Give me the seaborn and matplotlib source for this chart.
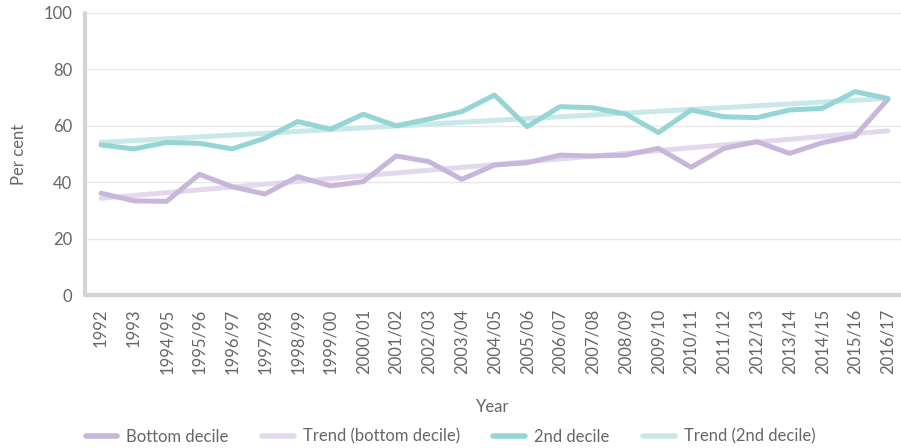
import matplotlib
matplotlib.use("Agg")
import matplotlib.pyplot as plt
import numpy as np
import pandas as pd
import seaborn as sns

# values
years = ["1992", "1993", "1994/95", "1995/96", "1996/97", "1997/98", "1998/99",
         "1999/00", "2000/01", "2001/02", "2002/03", "2003/04", "2004/05",
         "2005/06", "2006/07", "2007/08", "2008/09", "2009/10", "2010/11",
         "2011/12", "2012/13", "2013/14", "2014/15", "2015/16", "2016/17"]
bottom_decile = [36.1, 33.4, 33.2, 42.8, 38.4, 35.8, 42.0, 38.7, 40.2, 49.3,
                 47.3, 41.0, 46.1, 46.9, 49.6, 49.3, 49.6, 52.0, 45.3, 52.0,
                 54.4, 50.2, 54.0, 56.4, 69.4]
second_decile = [53.2, 51.8, 54.1, 53.8, 51.8, 55.6, 61.5, 58.8, 64.1, 60.0,
                 62.4, 65.0, 70.9, 59.7, 66.8, 66.4, 64.2, 57.6, 65.6, 63.2,
                 62.9, 65.6, 66.2, 72.1, 69.7]
# trend lines: start and end values (first and last year)
trend_bottom = [34.3, 58.2]
trend_second = [54.1, 69.7]

series_names = ["Bottom decile", "Trend (bottom decile)", "2nd decile", "Trend (2nd decile)"]
colors = ["#c9b7db", "#e3d9ee", "#95d6d4", "#c8e8e9"]

sns.set_theme(style="white")
plt.rcParams["font.family"] = ["Lato", "DejaVu Sans"]
text_color = "#666666"

df = pd.DataFrame({"year": years, "bottom": bottom_decile, "second": second_decile})
df["pos"] = np.arange(len(years))
ends = pd.DataFrame({"pos": [0, len(years) - 1],
                     "tb": trend_bottom, "ts": trend_second})

fig = plt.figure(figsize=(9.01, 4.48), dpi=100)
ax = fig.add_axes([0.0943, 0.3415, 0.9057, 0.6295])

lw = 3.6
sns.lineplot(data=df, x="pos", y="bottom", ax=ax, color=colors[0], lw=lw,
             label=series_names[0], zorder=4, solid_capstyle="round")
sns.lineplot(data=ends, x="pos", y="tb", ax=ax, color=colors[1], lw=lw,
             label=series_names[1], zorder=3, solid_capstyle="round")
sns.lineplot(data=df, x="pos", y="second", ax=ax, color=colors[2], lw=lw,
             label=series_names[2], zorder=4, solid_capstyle="round")
sns.lineplot(data=ends, x="pos", y="ts", ax=ax, color=colors[3], lw=lw,
             label=series_names[3], zorder=3, solid_capstyle="round")

ax.set_xlim(-0.49, len(years) - 1 + 0.4)
ax.set_ylim(0, 100)
ax.set_yticks([0, 20, 40, 60, 80, 100])
ax.set_xticks(df["pos"])
ax.set_xticklabels(years, rotation=90)
ax.tick_params(axis="both", length=0, labelsize=12, colors=text_color)
ax.tick_params(axis="x", pad=10)
ax.tick_params(axis="y", pad=9)

ax.grid(axis="y", color="#e8e8e8", lw=1.0)
ax.grid(axis="x", visible=False)
for side in ["top", "right"]:
    ax.spines[side].set_visible(False)
for side in ["left", "bottom"]:
    ax.spines[side].set_color("#d3d3d3")
    ax.spines[side].set_linewidth(3)
    ax.spines[side].set_capstyle("round")

ax.set_xlabel("Year", fontsize=12, color=text_color, labelpad=18)
ax.set_ylabel("Per cent", fontsize=12, color=text_color, labelpad=12)

leg = ax.legend(loc="center", bbox_to_anchor=(0.5, 0.025), bbox_transform=fig.transFigure,
                ncol=4, frameon=False, fontsize=12, handlelength=1.9,
                handletextpad=0.55, columnspacing=2.0)
for t in leg.get_texts():
    t.set_color(text_color)
for h in leg.get_lines():
    h.set_linewidth(4)

fig.savefig("out.png", dpi=100)
